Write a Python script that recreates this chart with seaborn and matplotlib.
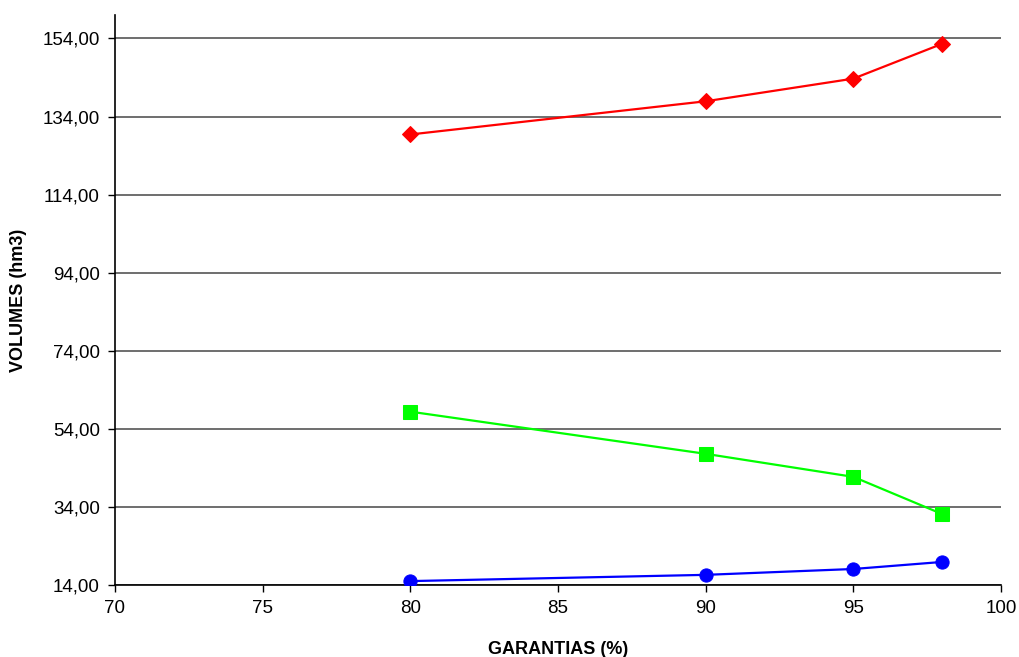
import matplotlib
matplotlib.use("Agg")
import matplotlib.pyplot as plt
import seaborn as sns
import pandas as pd

garantias = [80, 90, 95, 98]
serie_vermelha = [129.4, 137.9, 143.7, 152.6]
serie_verde = [58.4, 47.6, 41.7, 32.2]
serie_azul = [15.0, 16.6, 18.1, 19.9]
x_ticks = [70, 75, 80, 85, 90, 95, 100]
y_ticks = [14, 34, 54, 74, 94, 114, 134, 154]

sns.set_theme(style="white")
plt.rcParams['font.family'] = ['Liberation Sans', 'DejaVu Sans']
plt.rcParams['text.color'] = 'black'
plt.rcParams['axes.labelcolor'] = 'black'

fig = plt.figure(figsize=(10.2, 6.57), dpi=100)
ax = fig.add_axes([115/1020, 1-585/657, (1001-115)/1020, (585-15)/657])

series = [
    (serie_vermelha, "#ff0000", "D", 8.5),
    (serie_verde, "#00ff00", "s", 9.5),
    (serie_azul, "#0000ff", "o", 9.5),
]
for vals, col, mk, ms in series:
    df = pd.DataFrame({"x": garantias, "y": vals})
    sns.lineplot(data=df, x="x", y="y", ax=ax, color=col, marker=mk,
                 markersize=ms, markeredgecolor=col, linewidth=1.6, zorder=3)

ax.set_xlim(70, 100)
ax.set_ylim(14, 160)
ax.set_xticks(x_ticks)
ax.set_yticks(y_ticks)
ax.set_yticklabels([f"{v:.2f}".replace(".", ",") for v in y_ticks])
ax.yaxis.grid(True, color="#555555", linewidth=1.2)
ax.xaxis.grid(False)
ax.set_axisbelow(True)
for s in ["top", "right"]:
    ax.spines[s].set_visible(False)
for s in ["left", "bottom"]:
    ax.spines[s].set_color("black")
    ax.spines[s].set_linewidth(1.2)
ax.tick_params(axis="both", direction="out", length=5, width=1, color="black",
               labelsize=13.5, labelcolor="black", bottom=True, left=True, pad=6)
ax.set_xlabel("GARANTIAS (%)", fontsize=13, fontweight="bold", labelpad=17, color="black")
ax.set_ylabel("VOLUMES (hm3)", fontsize=13, fontweight="bold", labelpad=11, color="black")

fig.savefig("out.png", dpi=100)
